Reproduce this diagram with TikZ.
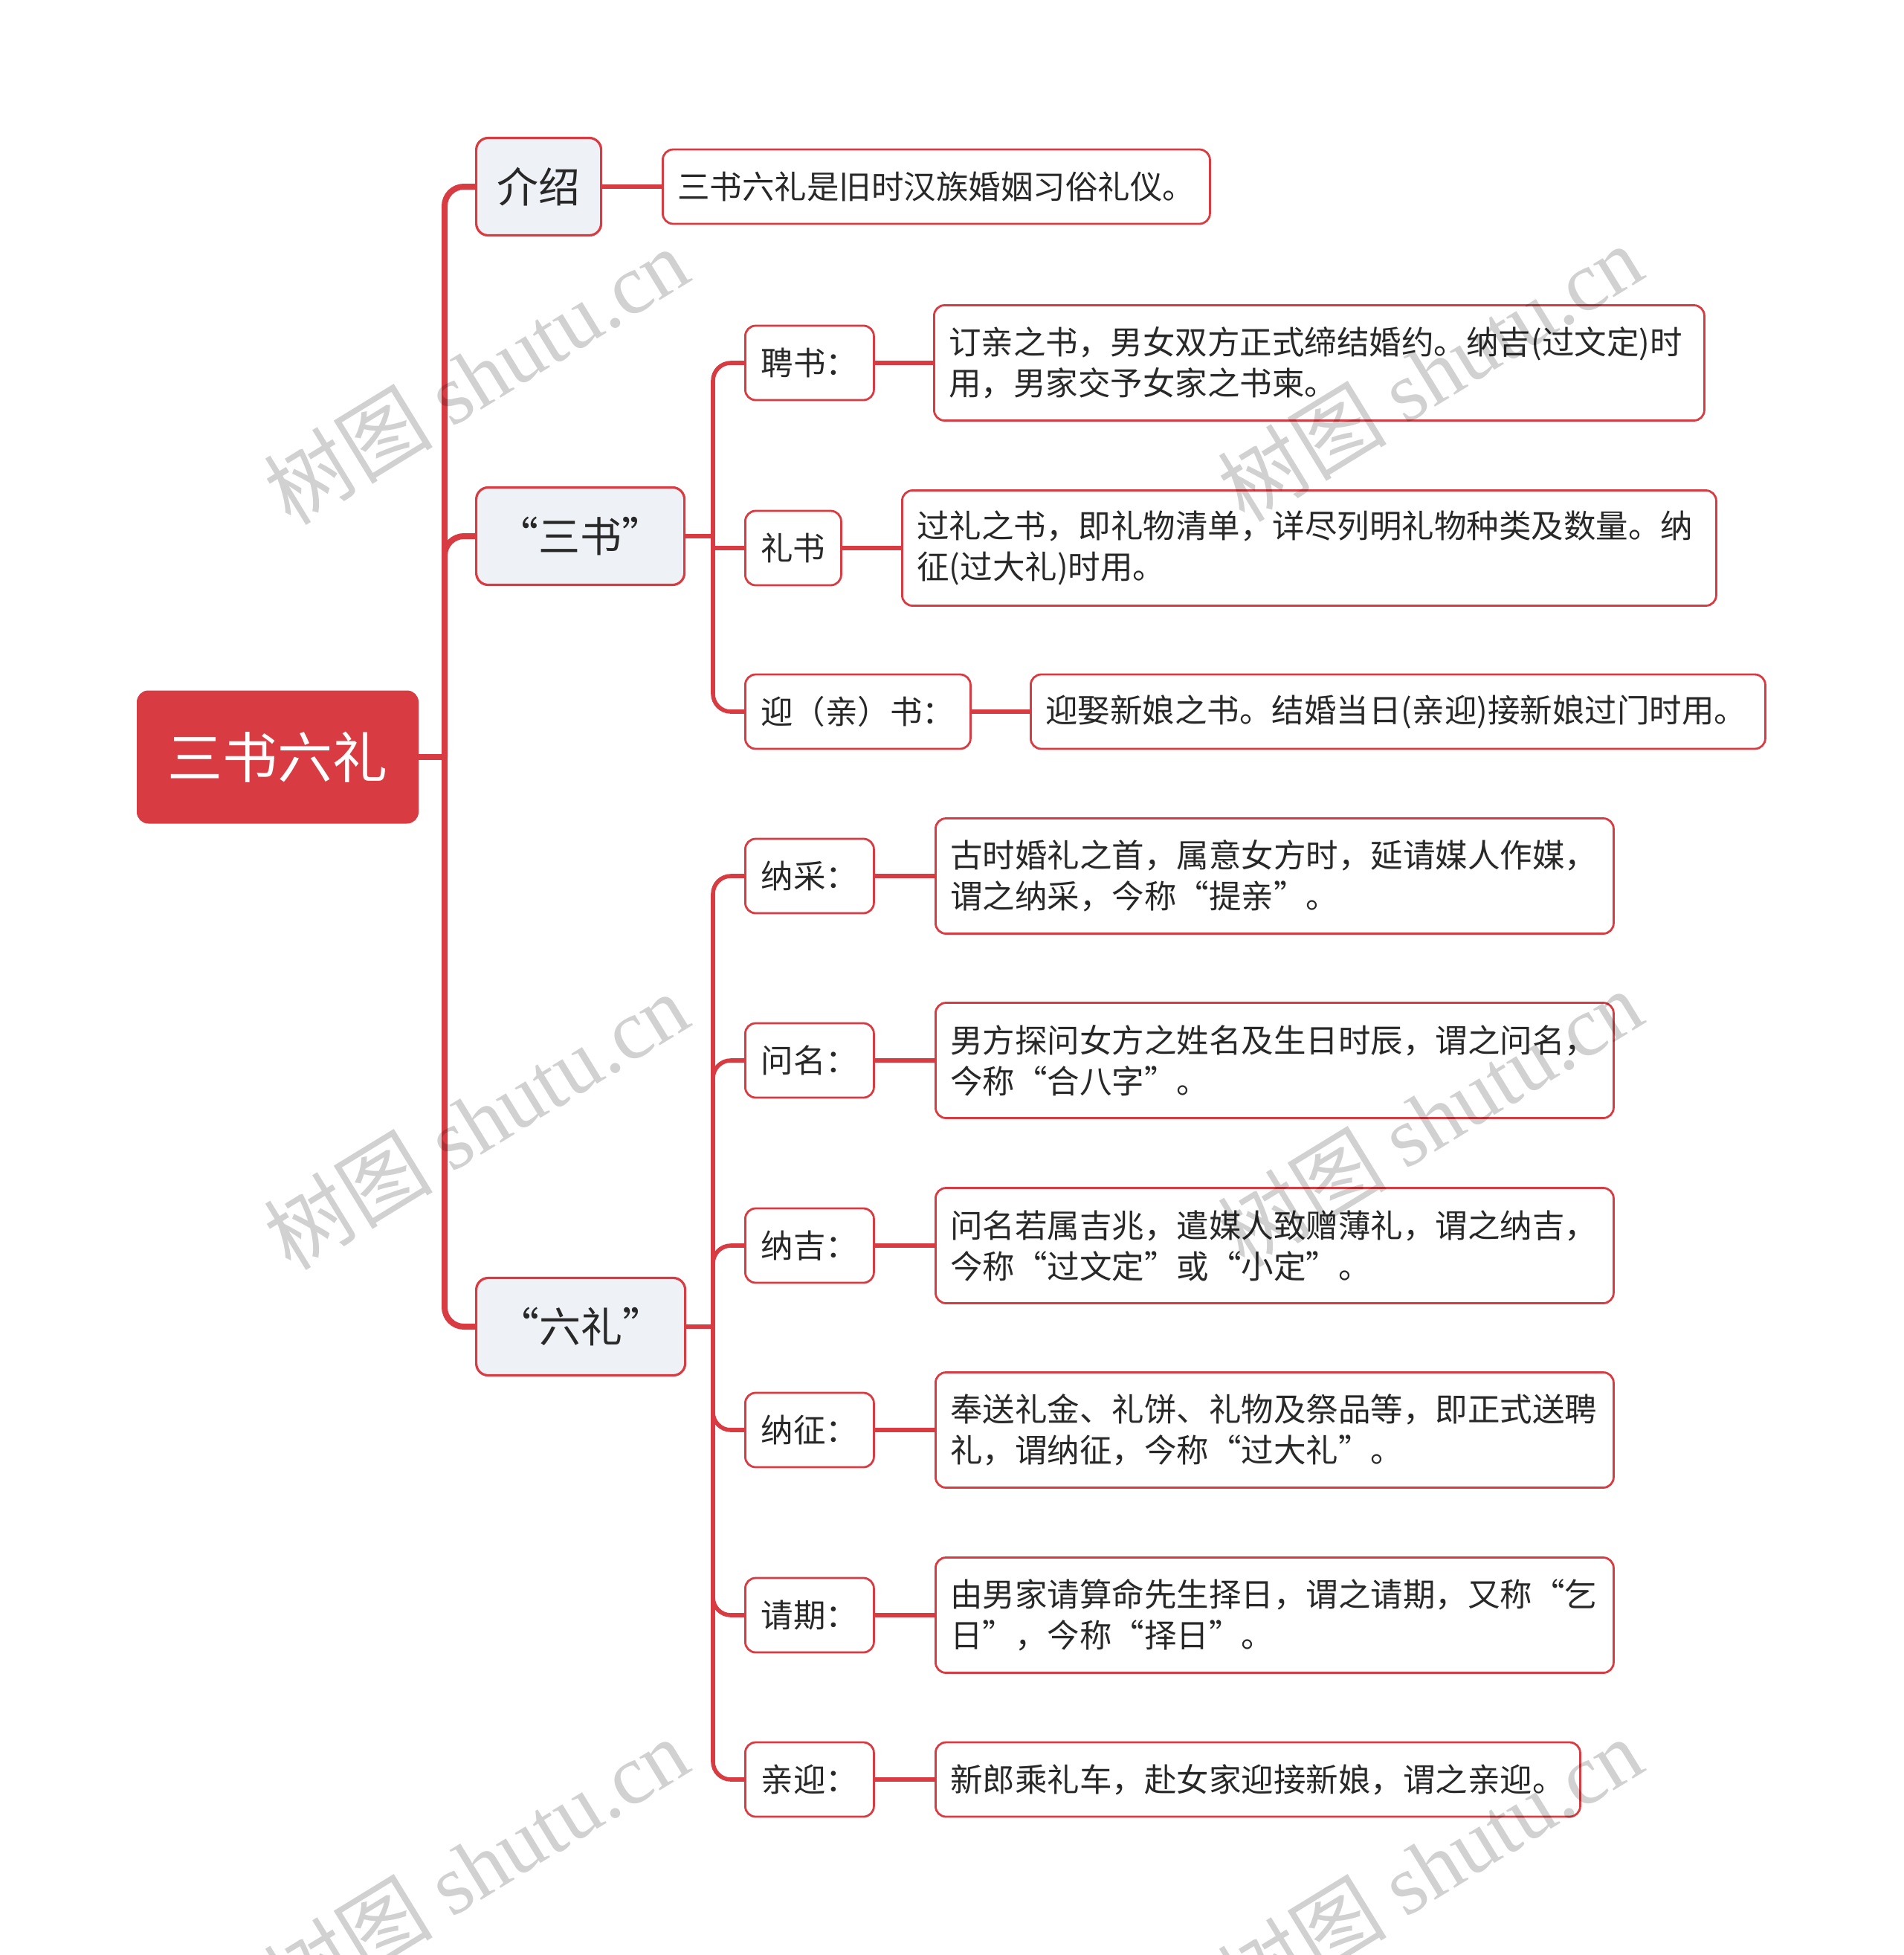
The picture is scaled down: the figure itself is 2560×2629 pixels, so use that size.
\documentclass[tikz,border=0pt]{standalone}
\usepackage{fontspec}
\setmainfont{Noto Sans CJK SC}
\newfontfamily\wmlat{Liberation Serif}
\newfontfamily\wmcjk{Noto Sans CJK SC}
\definecolor{mred}{RGB}{217,59,67}
\definecolor{mgray}{RGB}{238,241,245}
\definecolor{mtext}{RGB}{40,40,40}
\begin{document}
\begin{tikzpicture}[x=0.5pt,y=-0.5pt,
  rootbox/.style={draw=mred, fill=mred, line width=1.5pt, rounded corners=7pt, text=white,
    font=\fontsize{37pt}{44pt}\selectfont, minimum width=188pt, minimum height=88pt, inner sep=0pt, anchor=west},
  topicbox/.style={draw=mred, fill=mgray, line width=1.6pt, rounded corners=8pt, text=mtext,
    font=\fontsize{28pt}{34pt}\selectfont, minimum height=65.5pt, inner sep=0pt, anchor=west},
  labelbox/.style={draw=mred, fill=white, line width=1.4pt, rounded corners=7pt, text=mtext,
    font=\fontsize{21.75pt}{27.5pt}\selectfont, minimum height=50pt, inner sep=0pt, anchor=west},
  descbox/.style={draw=mred, fill=white, line width=1.4pt, rounded corners=7pt, text=mtext,
    font=\fontsize{21.75pt}{27.5pt}\selectfont, inner xsep=10pt, inner ysep=0pt, align=left, anchor=west},
  lone/.style={draw=mred, line width=4pt, rounded corners=13pt},
  ltwo/.style={draw=mred, line width=2.8pt, rounded corners=12pt},
  lthree/.style={draw=mred, line width=2.6pt},
  wm/.style={text=black, opacity=0.18, rotate=31.5, font=\fontsize{57pt}{57pt}\selectfont, inner sep=0pt}
]
\useasboundingbox (0,0) rectangle (2560,2629);
\fill[white] (0,0) rectangle (2560,2629);

% root
\node[rootbox] (root) at (184,1018) {三书六礼};

% level 1
\node[topicbox, minimum width=84pt] (intro) at (639,251) {介绍};
\node[topicbox, minimum width=140pt] (sanshu) at (639,721) {“三书”};
\node[topicbox, minimum width=140.5pt] (liuli) at (639,1784) {“六礼”};

% intro description
\node[descbox, text width=348pt, minimum height=50pt] (dintro) at (890,251) {三书六礼是旧时汉族婚姻习俗礼仪。};

% san shu children
\node[labelbox, minimum width=86.5pt] (pin) at (1001,488) {聘书：};
\node[labelbox, minimum width=64.5pt] (lishu) at (1001,737) {礼书};
\node[labelbox, minimum width=151.5pt] (ying) at (1001,957) {迎（亲）书：};

\node[descbox, text width=498pt, minimum height=77.5pt] (dpin) at (1255,488)
  {订亲之书，男女双方正式缔结婚约。纳吉(过文定)时\\用，男家交予女家之书柬。};
\node[descbox, text width=527.5pt, minimum height=77.5pt] (dlishu) at (1212,737)
  {过礼之书，即礼物清单，详尽列明礼物种类及数量。纳\\征(过大礼)时用。};
\node[descbox, text width=474pt, minimum height=50pt] (dying) at (1385,957)
  {迎娶新娘之书。结婚当日(亲迎)接新娘过门时用。};

% liu li children
\node[labelbox, minimum width=86.5pt] (nacai) at (1001,1178) {纳采：};
\node[labelbox, minimum width=86.5pt] (wenming) at (1001,1426) {问名：};
\node[labelbox, minimum width=86.5pt] (naji) at (1001,1675) {纳吉：};
\node[labelbox, minimum width=86.5pt] (nazheng) at (1001,1923) {纳征：};
\node[labelbox, minimum width=86.5pt] (qingqi) at (1001,2172) {请期：};
\node[labelbox, minimum width=86.5pt] (qinying) at (1001,2393) {亲迎：};

\node[descbox, text width=436pt, minimum height=77.5pt] (dnacai) at (1257,1178)
  {古时婚礼之首，属意女方时，延请媒人作媒，\\谓之纳采，今称“提亲”。};
\node[descbox, text width=436pt, minimum height=77.5pt] (dwenming) at (1257,1426)
  {男方探问女方之姓名及生日时辰，谓之问名，\\今称“合八字”。};
\node[descbox, text width=436pt, minimum height=77.5pt] (dnaji) at (1257,1675)
  {问名若属吉兆，遣媒人致赠薄礼，谓之纳吉，\\今称“过文定”或“小定”。};
\node[descbox, text width=436pt, minimum height=77.5pt] (dnazheng) at (1257,1923)
  {奉送礼金、礼饼、礼物及祭品等，即正式送聘\\礼，谓纳征，今称“过大礼”。};
\node[descbox, text width=436pt, minimum height=77.5pt] (dqingqi) at (1257,2172)
  {由男家请算命先生择日，谓之请期，又称“乞\\日”，今称“择日”。};
\node[descbox, text width=413.5pt, minimum height=50pt] (dqinying) at (1257,2393)
  {新郎乘礼车，赴女家迎接新娘，谓之亲迎。};

% connectors level 1
\coordinate (t1) at (598,1018);
\draw[lone] (root.east) -- (t1);
\draw[lone] (t1) |- (intro.west);
\draw[lone] (t1) |- (sanshu.west);
\draw[lone] (t1) |- (liuli.west);

% connectors san shu
\coordinate (t2) at (959,721);
\draw[ltwo] (sanshu.east) -- (t2);
\draw[ltwo] (t2) |- (pin.west);
\draw[ltwo, rounded corners=0pt] (t2) -- (t2 |- lishu.west) -- (lishu.west);
\draw[ltwo] (t2) |- (ying.west);

% connectors liu li
\coordinate (t3) at (959,1784);
\draw[ltwo] (liuli.east) -- (t3);
\draw[ltwo] (t3) |- (nacai.west);
\draw[ltwo] (t3) |- (wenming.west);
\draw[ltwo] (t3) |- (naji.west);
\draw[ltwo] (t3) |- (nazheng.west);
\draw[ltwo] (t3) |- (qingqi.west);
\draw[ltwo] (t3) |- (qinying.west);

% leaf connectors
\draw[lthree] (intro.east) -- (dintro.west);
\draw[lthree] (pin.east) -- (dpin.west);
\draw[lthree] (lishu.east) -- (dlishu.west);
\draw[lthree] (ying.east) -- (dying.west);
\draw[lthree] (nacai.east) -- (dnacai.west);
\draw[lthree] (wenming.east) -- (dwenming.west);
\draw[lthree] (naji.east) -- (dnaji.west);
\draw[lthree] (nazheng.east) -- (dnazheng.west);
\draw[lthree] (qingqi.east) -- (dqingqi.west);
\draw[lthree] (qinying.east) -- (dqinying.west);

% watermarks
\node[wm] (wm1) at (640,505) {{\wmcjk 树图} {\wmlat shutu.cn}};
\node[wm] (wm2) at (1923,501) {{\wmcjk 树图} {\wmlat shutu.cn}};
\node[wm] (wm3) at (640,1507) {{\wmcjk 树图} {\wmlat shutu.cn}};
\node[wm] (wm4) at (1923,1503) {{\wmcjk 树图} {\wmlat shutu.cn}};
\node[wm] (wm5) at (640,2509) {{\wmcjk 树图} {\wmlat shutu.cn}};
\node[wm] (wm6) at (1923,2509) {{\wmcjk 树图} {\wmlat shutu.cn}};
\end{tikzpicture}
\end{document}
